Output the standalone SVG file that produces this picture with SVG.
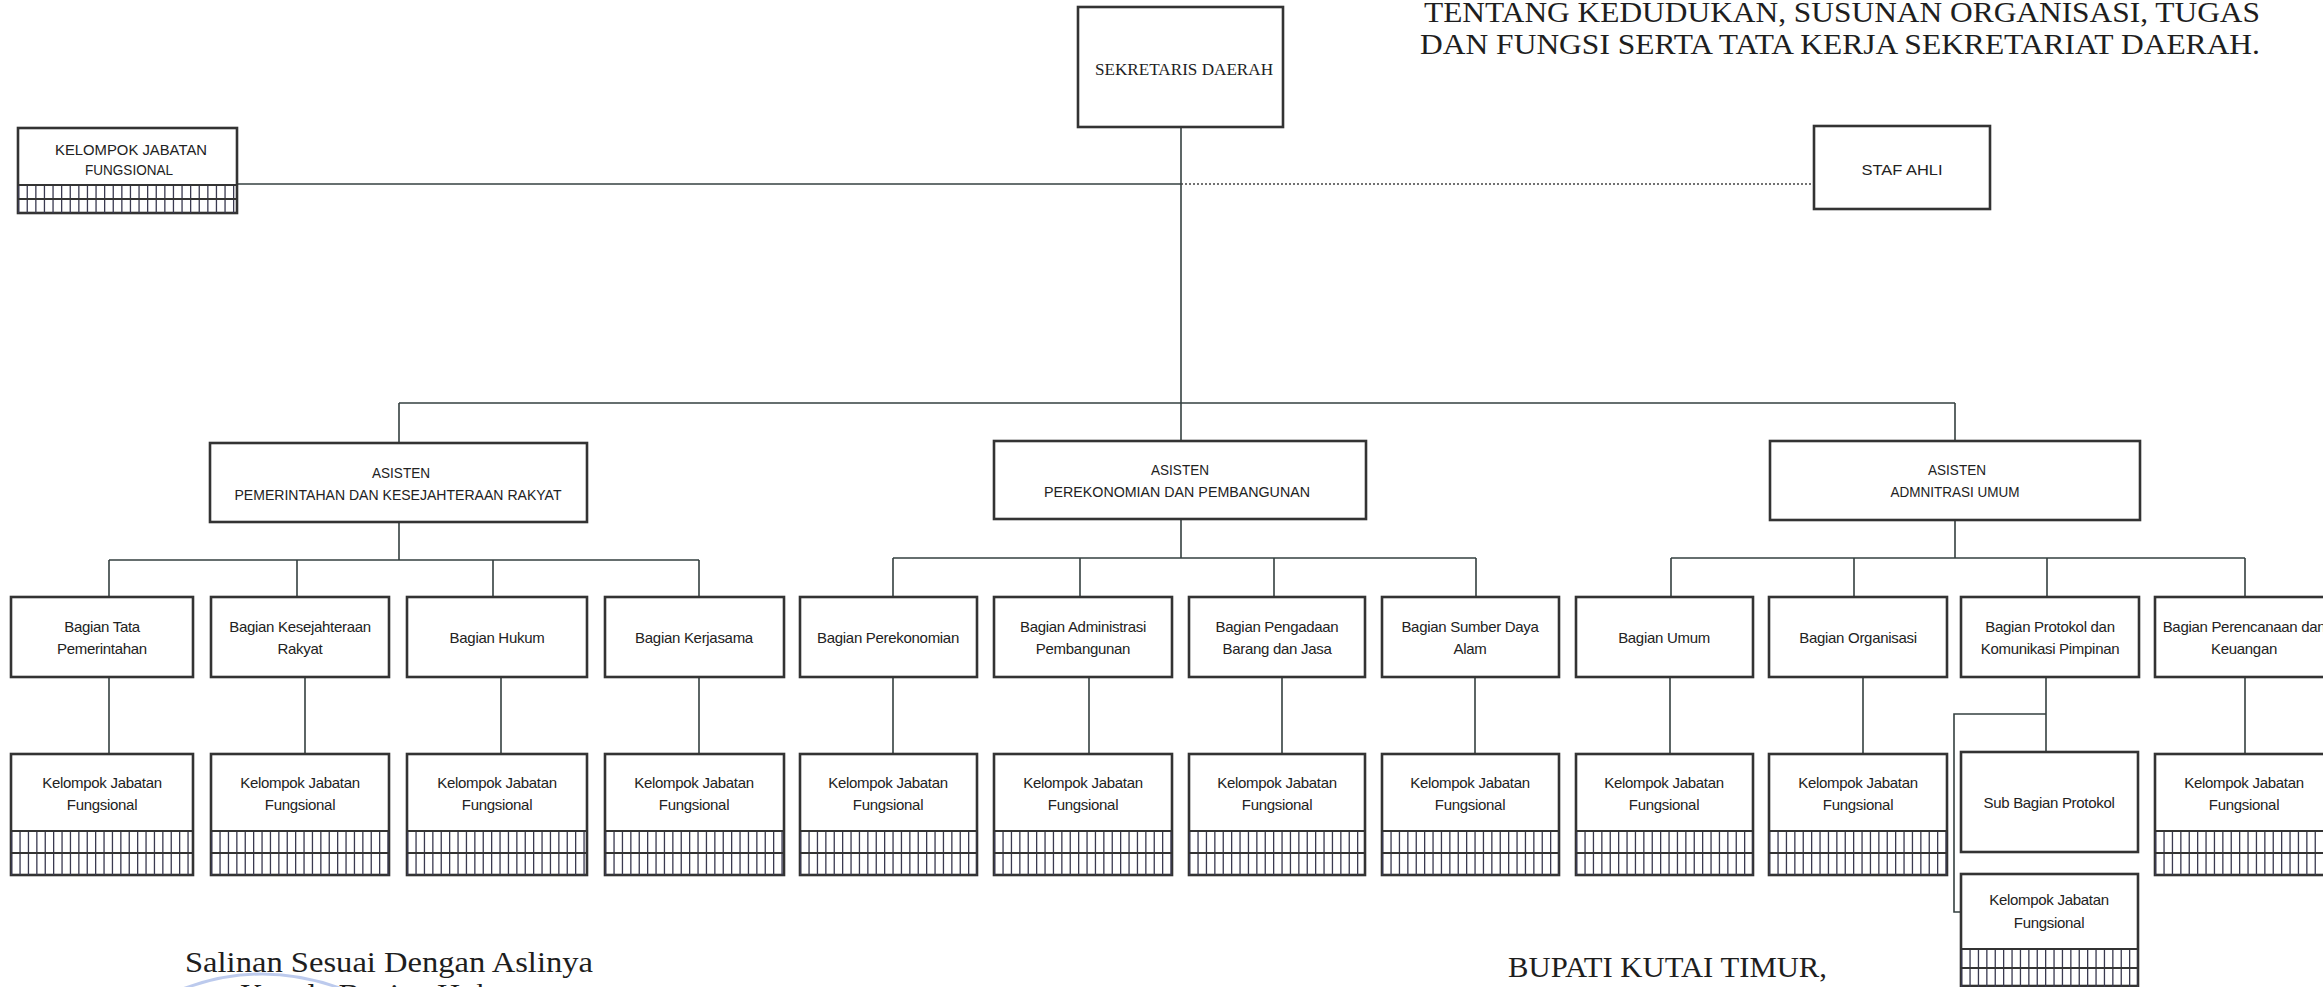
<svg xmlns="http://www.w3.org/2000/svg" width="2323" height="987" viewBox="0 0 2323 987">
<style>
.bg{fill:#fff}
.box{fill:#fff;stroke:#333;stroke-width:2.6}
.ln{fill:none;stroke:#354040;stroke-width:1.6}
.dot{fill:none;stroke:#444;stroke-width:1.6;stroke-dasharray:2 2}
.gl{stroke:#333;stroke-width:2}
.bars{stroke:#3a3a50;stroke-dasharray:1.3 7.1}
.t{font-family:"Liberation Sans",Arial,sans-serif;font-size:15px;letter-spacing:-0.3px;fill:#222;text-anchor:middle}
.c{font-family:"Liberation Sans",Arial,sans-serif;font-size:15px;fill:#222;text-anchor:middle}
.s{font-family:"Liberation Serif","Times New Roman",serif;fill:#1e1e1e}
</style>
<rect class="bg" x="0" y="0" width="2323" height="987"/>

<g id="title">
<text class="s" x="1424" y="22" font-size="29" textLength="836" lengthAdjust="spacingAndGlyphs">TENTANG KEDUDUKAN, SUSUNAN ORGANISASI, TUGAS</text>
<text class="s" x="1420" y="54" font-size="29" textLength="840" lengthAdjust="spacingAndGlyphs">DAN FUNGSI SERTA TATA KERJA SEKRETARIAT DAERAH.</text>
</g>

<g id="connectors">
<path class="ln" d="M1181 127V441"/>
<path class="ln" d="M237 184H1181"/>
<path class="dot" d="M1181 184H1813"/>
<path class="ln" d="M399 403H1955M399 403V443M1955 403V441"/>
<path class="ln" d="M399 522V560M109 560H699M109 560V597M297 560V597M493 560V597M699 560V597"/>
<path class="ln" d="M1181 519V558M893 558H1476M893 558V597M1080 558V597M1274 558V597M1476 558V597"/>
<path class="ln" d="M1955 520V558M1671 558H2245M1671 558V597M1854 558V597M2047 558V597M2245 558V597"/>
<path class="ln" d="M109 677V754M305 677V754M501 677V754M699 677V754M893 677V754M1089 677V754M1282 677V754M1475 677V754M1670 677V754M1863 677V754M2245 677V754"/>
<path class="ln" d="M2046 677V752M2046 714H1954V912H1961"/>
</g>

<g id="sekretaris-daerah">
<rect class="box" x="1078" y="7" width="205" height="120"/>
<text class="s" x="1095" y="75" font-size="16" textLength="178" lengthAdjust="spacingAndGlyphs">SEKRETARIS DAERAH</text>
</g>

<g id="staf-ahli">
<rect class="box" x="1814" y="126" width="176" height="83"/>
<text class="c" x="1902" y="175" font-size="15" textLength="81" lengthAdjust="spacingAndGlyphs">STAF AHLI</text>
</g>

<g id="kjf-top">
<rect class="box" x="18" y="128" width="219" height="85"/>
<line class="bars" x1="18" y1="199" x2="237" y2="199" style="stroke-width:28;stroke-dasharray:1.3 7.3"/>
<line class="gl" x1="18" y1="185" x2="237" y2="185"/>
<line class="gl" x1="18" y1="199" x2="237" y2="199"/>
<text class="c" x="131" y="155" textLength="152" lengthAdjust="spacingAndGlyphs">KELOMPOK JABATAN</text>
<text class="c" x="129" y="175" textLength="88" lengthAdjust="spacingAndGlyphs">FUNGSIONAL</text>
</g>

<g id="asisten-1">
<rect class="box" x="210" y="443" width="377" height="79"/>
<text class="c" x="401" y="478" textLength="58" lengthAdjust="spacingAndGlyphs">ASISTEN</text>
<text class="c" x="398" y="500" textLength="327" lengthAdjust="spacingAndGlyphs">PEMERINTAHAN DAN KESEJAHTERAAN RAKYAT</text>
</g>
<g id="asisten-2">
<rect class="box" x="994" y="441" width="372" height="78"/>
<text class="c" x="1180" y="475" textLength="58" lengthAdjust="spacingAndGlyphs">ASISTEN</text>
<text class="c" x="1177" y="497" textLength="266" lengthAdjust="spacingAndGlyphs">PEREKONOMIAN DAN PEMBANGUNAN</text>
</g>
<g id="asisten-3">
<rect class="box" x="1770" y="441" width="370" height="79"/>
<text class="c" x="1957" y="475" textLength="58" lengthAdjust="spacingAndGlyphs">ASISTEN</text>
<text class="c" x="1955" y="497" textLength="129" lengthAdjust="spacingAndGlyphs">ADMNITRASI UMUM</text>
</g>

<g id="bagian-tata-pemerintahan">
<rect class="box" x="11" y="597" width="182" height="80"/>
<text class="t" x="102" y="632">Bagian Tata</text>
<text class="t" x="102" y="654">Pemerintahan</text>
</g>
<g id="bagian-kesejahteraan-rakyat">
<rect class="box" x="211" y="597" width="178" height="80"/>
<text class="t" x="300" y="632">Bagian Kesejahteraan</text>
<text class="t" x="300" y="654">Rakyat</text>
</g>
<g id="bagian-hukum">
<rect class="box" x="407" y="597" width="180" height="80"/>
<text class="t" x="497" y="643">Bagian Hukum</text>
</g>
<g id="bagian-kerjasama">
<rect class="box" x="605" y="597" width="179" height="80"/>
<text class="t" x="694" y="643">Bagian Kerjasama</text>
</g>
<g id="bagian-perekonomian">
<rect class="box" x="800" y="597" width="177" height="80"/>
<text class="t" x="888" y="643">Bagian Perekonomian</text>
</g>
<g id="bagian-administrasi-pembangunan">
<rect class="box" x="994" y="597" width="178" height="80"/>
<text class="t" x="1083" y="632">Bagian Administrasi</text>
<text class="t" x="1083" y="654">Pembangunan</text>
</g>
<g id="bagian-pengadaan">
<rect class="box" x="1189" y="597" width="176" height="80"/>
<text class="t" x="1277" y="632">Bagian Pengadaan</text>
<text class="t" x="1277" y="654">Barang dan Jasa</text>
</g>
<g id="bagian-sumber-daya-alam">
<rect class="box" x="1382" y="597" width="177" height="80"/>
<text class="t" x="1470" y="632">Bagian Sumber Daya</text>
<text class="t" x="1470" y="654">Alam</text>
</g>
<g id="bagian-umum">
<rect class="box" x="1576" y="597" width="177" height="80"/>
<text class="t" x="1664" y="643">Bagian Umum</text>
</g>
<g id="bagian-organisasi">
<rect class="box" x="1769" y="597" width="178" height="80"/>
<text class="t" x="1858" y="643">Bagian Organisasi</text>
</g>
<g id="bagian-protokol">
<rect class="box" x="1961" y="597" width="178" height="80"/>
<text class="t" x="2050" y="632">Bagian Protokol dan</text>
<text class="t" x="2050" y="654">Komunikasi Pimpinan</text>
</g>
<g id="bagian-perencanaan-keuangan">
<rect class="box" x="2155" y="597" width="178" height="80"/>
<text class="t" x="2244" y="632">Bagian Perencanaan dan</text>
<text class="t" x="2244" y="654">Keuangan</text>
</g>

<g id="kjf-1"><rect class="box" x="11" y="754" width="182" height="121"/><line class="bars" x1="11" y1="853" x2="193" y2="853" style="stroke-width:44"/><line class="gl" x1="11" y1="831" x2="193" y2="831"/><line class="gl" x1="11" y1="853" x2="193" y2="853"/><text class="t" x="102" y="788">Kelompok Jabatan</text><text class="t" x="102" y="810">Fungsional</text></g>
<g id="kjf-2"><rect class="box" x="211" y="754" width="178" height="121"/><line class="bars" x1="211" y1="853" x2="389" y2="853" style="stroke-width:44"/><line class="gl" x1="211" y1="831" x2="389" y2="831"/><line class="gl" x1="211" y1="853" x2="389" y2="853"/><text class="t" x="300" y="788">Kelompok Jabatan</text><text class="t" x="300" y="810">Fungsional</text></g>
<g id="kjf-3"><rect class="box" x="407" y="754" width="180" height="121"/><line class="bars" x1="407" y1="853" x2="587" y2="853" style="stroke-width:44"/><line class="gl" x1="407" y1="831" x2="587" y2="831"/><line class="gl" x1="407" y1="853" x2="587" y2="853"/><text class="t" x="497" y="788">Kelompok Jabatan</text><text class="t" x="497" y="810">Fungsional</text></g>
<g id="kjf-4"><rect class="box" x="605" y="754" width="179" height="121"/><line class="bars" x1="605" y1="853" x2="784" y2="853" style="stroke-width:44"/><line class="gl" x1="605" y1="831" x2="784" y2="831"/><line class="gl" x1="605" y1="853" x2="784" y2="853"/><text class="t" x="694" y="788">Kelompok Jabatan</text><text class="t" x="694" y="810">Fungsional</text></g>
<g id="kjf-5"><rect class="box" x="800" y="754" width="177" height="121"/><line class="bars" x1="800" y1="853" x2="977" y2="853" style="stroke-width:44"/><line class="gl" x1="800" y1="831" x2="977" y2="831"/><line class="gl" x1="800" y1="853" x2="977" y2="853"/><text class="t" x="888" y="788">Kelompok Jabatan</text><text class="t" x="888" y="810">Fungsional</text></g>
<g id="kjf-6"><rect class="box" x="994" y="754" width="178" height="121"/><line class="bars" x1="994" y1="853" x2="1172" y2="853" style="stroke-width:44"/><line class="gl" x1="994" y1="831" x2="1172" y2="831"/><line class="gl" x1="994" y1="853" x2="1172" y2="853"/><text class="t" x="1083" y="788">Kelompok Jabatan</text><text class="t" x="1083" y="810">Fungsional</text></g>
<g id="kjf-7"><rect class="box" x="1189" y="754" width="176" height="121"/><line class="bars" x1="1189" y1="853" x2="1365" y2="853" style="stroke-width:44"/><line class="gl" x1="1189" y1="831" x2="1365" y2="831"/><line class="gl" x1="1189" y1="853" x2="1365" y2="853"/><text class="t" x="1277" y="788">Kelompok Jabatan</text><text class="t" x="1277" y="810">Fungsional</text></g>
<g id="kjf-8"><rect class="box" x="1382" y="754" width="177" height="121"/><line class="bars" x1="1382" y1="853" x2="1559" y2="853" style="stroke-width:44"/><line class="gl" x1="1382" y1="831" x2="1559" y2="831"/><line class="gl" x1="1382" y1="853" x2="1559" y2="853"/><text class="t" x="1470" y="788">Kelompok Jabatan</text><text class="t" x="1470" y="810">Fungsional</text></g>
<g id="kjf-9"><rect class="box" x="1576" y="754" width="177" height="121"/><line class="bars" x1="1576" y1="853" x2="1753" y2="853" style="stroke-width:44"/><line class="gl" x1="1576" y1="831" x2="1753" y2="831"/><line class="gl" x1="1576" y1="853" x2="1753" y2="853"/><text class="t" x="1664" y="788">Kelompok Jabatan</text><text class="t" x="1664" y="810">Fungsional</text></g>
<g id="kjf-10"><rect class="box" x="1769" y="754" width="178" height="121"/><line class="bars" x1="1769" y1="853" x2="1947" y2="853" style="stroke-width:44"/><line class="gl" x1="1769" y1="831" x2="1947" y2="831"/><line class="gl" x1="1769" y1="853" x2="1947" y2="853"/><text class="t" x="1858" y="788">Kelompok Jabatan</text><text class="t" x="1858" y="810">Fungsional</text></g>
<g id="kjf-12"><rect class="box" x="2155" y="754" width="178" height="121"/><line class="bars" x1="2155" y1="853" x2="2333" y2="853" style="stroke-width:44"/><line class="gl" x1="2155" y1="831" x2="2333" y2="831"/><line class="gl" x1="2155" y1="853" x2="2333" y2="853"/><text class="t" x="2244" y="788">Kelompok Jabatan</text><text class="t" x="2244" y="810">Fungsional</text></g>

<g id="sub-bagian-protokol">
<rect class="box" x="1961" y="752" width="177" height="100"/>
<text class="t" x="2049" y="808">Sub Bagian Protokol</text>
</g>
<g id="kjf-protokol">
<rect class="box" x="1961" y="874" width="177" height="112"/>
<line class="bars" x1="1961" y1="968" x2="2138" y2="968" style="stroke-width:38"/>
<line class="gl" x1="1961" y1="949" x2="2138" y2="949"/>
<line class="gl" x1="1961" y1="968" x2="2138" y2="968"/>
<text class="t" x="2049" y="905">Kelompok Jabatan</text>
<text class="t" x="2049" y="928">Fungsional</text>
</g>

<g id="footer">
<path d="M180 990 Q262 958 345 990" fill="none" stroke="#9fb3e6" stroke-width="3" opacity="0.7"/>
<text class="s" x="185" y="972" font-size="30" textLength="408" lengthAdjust="spacingAndGlyphs">Salinan Sesuai Dengan Aslinya</text>
<text class="s" x="240" y="1004" font-size="30" textLength="293" lengthAdjust="spacingAndGlyphs">Kepala Bagian Hukum</text>
<text class="s" x="1508" y="977" font-size="29" textLength="319" lengthAdjust="spacingAndGlyphs">BUPATI KUTAI TIMUR,</text>
</g>
</svg>
